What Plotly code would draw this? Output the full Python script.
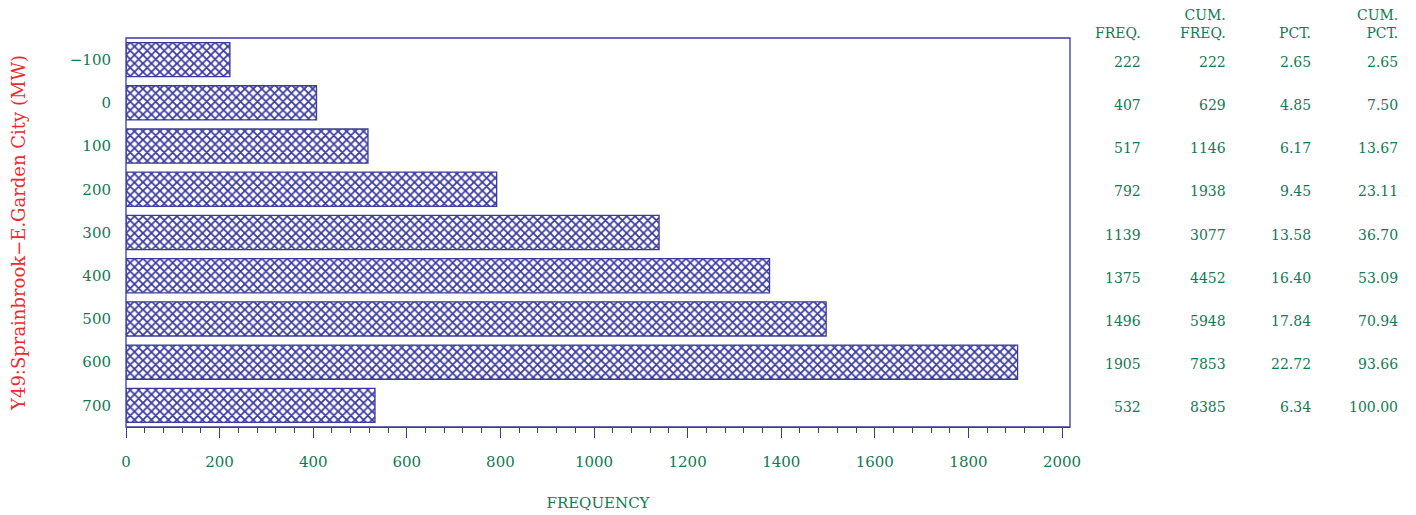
import plotly.graph_objects as go

categories = [-100, 0, 100, 200, 300, 400, 500, 600, 700]
cat_labels = ["\u2212100", "0", "100", "200", "300", "400", "500", "600", "700"]
freq = [222, 407, 517, 792, 1139, 1375, 1496, 1905, 532]
cum_freq = [222, 629, 1146, 1938, 3077, 4452, 5948, 7853, 8385]
pct = ["2.65", "4.85", "6.17", "9.45", "13.58", "16.40", "17.84", "22.72", "6.34"]
cum_pct = ["2.65", "7.50", "13.67", "23.11", "36.70", "53.09", "70.94", "93.66", "100.00"]
col_headers = ["FREQ.", "CUM.<br>FREQ.", "PCT.", "CUM.<br>PCT."]

GREEN = "#127a52"
NAVY = "#3a3a9e"
RED = "#ee2a2f"
FONT = "DejaVu Serif"

# page has an 8px body margin; size the figure to fit inside the window
OFF = 8
W, H = 1416 - OFF, 515 - OFF
L, T = 126 - OFF, 38 - OFF
pw, ph = 944, 389
R = W - L - pw
B = H - T - ph

fig = go.Figure()
fig.add_trace(go.Bar(
    x=freq, y=categories, orientation="h", width=79,
    marker=dict(color="white", line=dict(color=NAVY, width=1.3),
                pattern=dict(shape="x", fgcolor=NAVY, bgcolor="white", size=6, solidity=0.5, fgopacity=1)),
    hoverinfo="x+y",
))

def px_to_paper(px):
    return (px - OFF - L) / pw

col_right_px = [1143, 1228, 1313, 1400]
cols = [freq, cum_freq, pct, cum_pct]
ann = []
for cx, hdr, vals in zip(col_right_px, col_headers, cols):
    ann.append(dict(x=px_to_paper(cx), y=1.0, xref="paper", yref="paper", xanchor="right", yanchor="bottom",
                    text=hdr, showarrow=False, align="right", yshift=-5,
                    font=dict(family=FONT, size=14, color=GREEN)))
    for c, v in zip(categories, vals):
        ann.append(dict(x=px_to_paper(cx), y=c, xref="paper", yref="y", xanchor="right", yanchor="middle",
                        text=str(v), showarrow=False, yshift=-2,
                        font=dict(family=FONT, size=14, color=GREEN)))

fig.update_layout(
    width=W, height=H, margin=dict(l=L, r=R, t=T, b=B, autoexpand=False),
    paper_bgcolor="white", plot_bgcolor="white", showlegend=False,
    font=dict(family=FONT, color=GREEN, size=15),
    xaxis=dict(range=[0, 2017], tickvals=list(range(0, 2001, 200)), showgrid=False, zeroline=False,
               automargin=False,
               showline=True, linecolor=NAVY, linewidth=1.3, ticks="outside", ticklen=10, tickcolor=NAVY,
               tickwidth=1.3, ticklabelstandoff=11, tickfont=dict(family=FONT, size=15, color=GREEN),
               minor=dict(ticks="outside", ticklen=5, tickcolor=NAVY, tickwidth=1, dtick=40, showgrid=False),
               title=dict(text="FREQUENCY", font=dict(family=FONT, size=15, color=GREEN), standoff=27)),
    yaxis=dict(range=[750, -150], tickvals=categories, ticktext=cat_labels, showgrid=False, zeroline=False,
               automargin=False,
               showline=False, ticks="", ticklabelstandoff=14, tickfont=dict(family=FONT, size=15, color=GREEN),
               title=dict(text="Y49:Sprainbrook\u2212E.Garden City (MW)", font=dict(family=FONT, size=18, color=RED),
                          standoff=44)),
    annotations=ann,
    shapes=[dict(type="rect", xref="paper", yref="paper", x0=0, y0=0, x1=1, y1=1,
                 line=dict(color=NAVY, width=1.3), fillcolor="rgba(0,0,0,0)", layer="above")],
)

fig.write_html("out.html")
